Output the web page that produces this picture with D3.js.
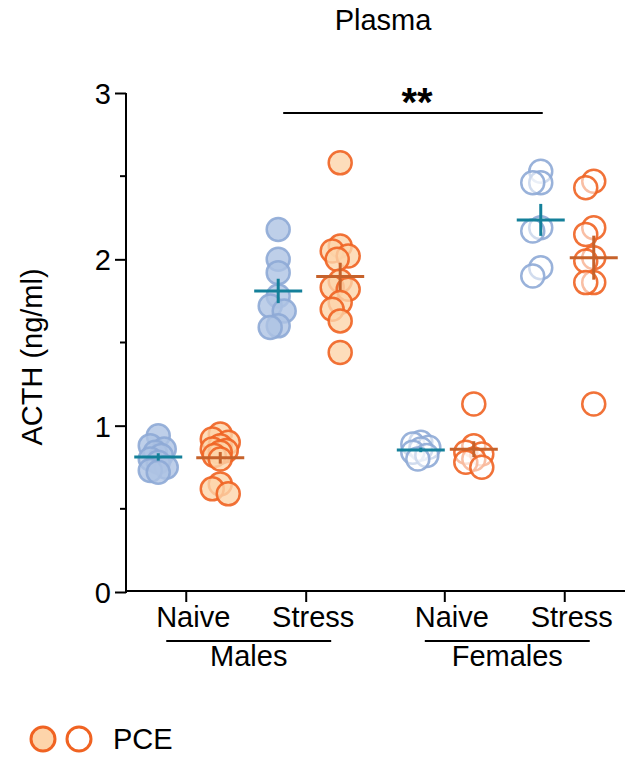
<!DOCTYPE html>
<html>
<head>
<meta charset="utf-8">
<script src="https://cdn.jsdelivr.net/npm/d3@7"></script>
<style>
  body { margin: 0; background: #fff; }
  svg text { font-family: "Liberation Sans", Arial, sans-serif; fill: #000; }
</style>
</head>
<body>
<div id="chart"></div>
<script>
// data (ACTH, ng/ml)
var sexes = ["Males", "Females"]
var conditions = ["Naive", "Stress"]
var treatments = ["Ctrl", "PCE"]

var malesNaiveCtrl = [0.94, 0.88, 0.86, 0.84, 0.82, 0.80, 0.78, 0.75, 0.73, 0.72]
var malesNaivePCE = [0.95, 0.92, 0.90, 0.88, 0.86, 0.85, 0.84, 0.82, 0.80, 0.65, 0.62, 0.59]
var malesStressCtrl = [2.18, 2.00, 1.92, 1.78, 1.72, 1.69, 1.60, 1.59]
var malesStressPCE = [2.58, 2.08, 2.05, 2.02, 2.00, 1.87, 1.83, 1.82, 1.74, 1.70, 1.63, 1.44]
var femalesNaiveCtrl = [0.90, 0.89, 0.87, 0.86, 0.84, 0.82, 0.80]
var femalesNaivePCE = [1.13, 0.88, 0.84, 0.83, 0.80, 0.78, 0.75]
var femalesStressCtrl = [2.53, 2.46, 2.46, 2.19, 2.17, 1.95, 1.90]
var femalesStressPCE = [2.47, 2.43, 2.19, 2.15, 2.01, 1.99, 1.86, 1.86, 1.13]

var yTicks = [0, 1, 2, 3]
var yMinorTicks = [0.5, 1.5, 2.5]
var title = "Plasma"
var yLabel = "ACTH (ng/ml)"
var sigLabel = "**"

var groups = [
  {sex: "Males", cond: "Naive", trt: "Ctrl", vals: malesNaiveCtrl},
  {sex: "Males", cond: "Naive", trt: "PCE", vals: malesNaivePCE},
  {sex: "Males", cond: "Stress", trt: "Ctrl", vals: malesStressCtrl},
  {sex: "Males", cond: "Stress", trt: "PCE", vals: malesStressPCE},
  {sex: "Females", cond: "Naive", trt: "Ctrl", vals: femalesNaiveCtrl},
  {sex: "Females", cond: "Naive", trt: "PCE", vals: femalesNaivePCE},
  {sex: "Females", cond: "Stress", trt: "Ctrl", vals: femalesStressCtrl},
  {sex: "Females", cond: "Stress", trt: "PCE", vals: femalesStressPCE}
]

var width = 633, height = 757;
var x0 = 126, x1 = 625, yBase = 592, yTop = 93;
var r = 11.5;
var fs = "29px";

var col = {
  Ctrl: {fill: "#aec3e3", stroke: "#8eaad6", mean: "#14809a"},
  PCE: {fill: "#fdd4aa", stroke: "#f06322", mean: "#c6622b"}
}
// the two sexes were dodged a bit differently in the original
var dodge = {Males: [-28, 34], Females: [-24, 29]}

var svg = d3.select("#chart").append("svg")
  .attr("width", width)
  .attr("height", height)

var y = d3.scaleLinear().domain([0, 3]).range([yBase, yTop])

var xSex = d3.scaleBand().domain(sexes).range([x0, x1]).paddingInner(0.1).paddingOuter(0.015)
var xCond = d3.scalePoint().domain(conditions).range([0, xSex.bandwidth()]).padding(0.47)

function xTick(sex, cond) { return xSex(sex) + xCond(cond) }
function xGroup(g) {
  var d = d3.scalePoint().domain(treatments).range(dodge[g.sex])
  return xTick(g.sex, g.cond) + d(g.trt)
}

// simple deterministic swarm so overlapping points spread sideways
function swarm(vals, cx) {
  var placed = []
  var cands = [0, -6, 6, -3, 3, -8, 8]
  vals.forEach(function(v) {
    var py = y(v), best = 0, bestScore = -Infinity
    cands.forEach(function(c) {
      var dmin = placed.length ? d3.min(placed, function(p) { return Math.hypot(p.x - (cx + c), p.y - py) }) : 99
      var score = Math.min(dmin, 14) - Math.abs(c) * 0.3
      if (score > bestScore) { bestScore = score; best = c }
    })
    placed.push({x: cx + best, y: py, v: v})
  })
  return placed
}

// title
svg.append("text")
  .attr("x", 383).attr("y", 30)
  .attr("text-anchor", "middle")
  .style("font-size", fs)
  .text(title)

// y axis
var yAxis = svg.append("g").attr("transform", "translate(" + x0 + ",0)")
yAxis.call(d3.axisLeft(y).tickValues(yTicks).tickSize(11).tickPadding(4).tickFormat(d3.format("d")))
yAxis.select(".domain").attr("stroke-width", 2).attr("d", "M0," + yTop + "V" + (yBase + 1))
yAxis.selectAll(".tick line").attr("stroke-width", 2)
yAxis.selectAll(".tick text").style("font-size", fs).attr("dy", "0.36em")
  .style("font-family", "'Liberation Sans', Arial, sans-serif")
yAxis.selectAll(".minor").data(yMinorTicks).enter().append("line")
  .attr("class", "minor")
  .attr("x1", -6).attr("x2", 0)
  .attr("y1", function(d) { return y(d) }).attr("y2", function(d) { return y(d) })
  .attr("stroke", "#000").attr("stroke-width", 2)

svg.append("text")
  .attr("transform", "translate(42," + 357 + ") rotate(-90)")
  .attr("text-anchor", "middle")
  .style("font-size", fs)
  .text(yLabel)

// x axis
var xg = svg.append("g")
xg.append("line")
  .attr("x1", x0 - 1).attr("x2", x1)
  .attr("y1", yBase - 1).attr("y2", yBase - 1)
  .attr("stroke", "#000").attr("stroke-width", 2)

sexes.forEach(function(sex) {
  conditions.forEach(function(cond) {
    var tx = xTick(sex, cond)
    xg.append("line")
      .attr("x1", tx).attr("x2", tx)
      .attr("y1", yBase - 1).attr("y2", yBase + 10)
      .attr("stroke", "#000").attr("stroke-width", 2)
    xg.append("text")
      .attr("x", tx + 7).attr("y", 627)
      .attr("text-anchor", "middle")
      .style("font-size", fs)
      .text(cond)
  })
  var a = xTick(sex, "Naive") - 20, b = xTick(sex, "Stress") + 25
  xg.append("line")
    .attr("x1", a).attr("x2", b)
    .attr("y1", 641).attr("y2", 641)
    .attr("stroke", "#000").attr("stroke-width", 2)
  xg.append("text")
    .attr("x", (a + b) / 2).attr("y", 666)
    .attr("text-anchor", "middle")
    .style("font-size", fs)
    .text(sex)
})

// points
groups.forEach(function(g) {
  var cx = xGroup(g)
  var pts = swarm(g.vals, cx)
  var c = col[g.trt]
  var filled = g.sex == "Males"
  svg.append("g").selectAll("circle")
    .data(pts)
    .enter().append("circle")
    .attr("cx", function(d) { return d.x })
    .attr("cy", function(d) { return d.y })
    .attr("r", r)
    .attr("fill", filled ? c.fill : "#fff")
    .attr("fill-opacity", filled ? 0.8 : 0.55)
    .attr("stroke", c.stroke)
    .attr("stroke-opacity", 0.9)
    .attr("stroke-width", 2.5)
})

// mean +- sem
groups.forEach(function(g) {
  var cx = xGroup(g)
  var m = d3.mean(g.vals)
  var sem = d3.deviation(g.vals) / Math.sqrt(g.vals.length)
  var c = col[g.trt].mean
  svg.append("line")
    .attr("x1", cx - 24).attr("x2", cx + 24)
    .attr("y1", y(m)).attr("y2", y(m))
    .attr("stroke", c).attr("stroke-width", 3)
  svg.append("line")
    .attr("x1", cx).attr("x2", cx)
    .attr("y1", y(m - sem)).attr("y2", y(m + sem))
    .attr("stroke", c).attr("stroke-width", 3)
})

// significance bracket
var sa = xGroup(groups[2]) + 5, sb = xGroup(groups[6]) + 2
svg.append("line")
  .attr("x1", sa).attr("x2", sb)
  .attr("y1", y(2.88)).attr("y2", y(2.88))
  .attr("stroke", "#000").attr("stroke-width", 2)
svg.append("text")
  .attr("x", (sa + sb) / 2 + 4).attr("y", y(2.88) + 3)
  .attr("text-anchor", "middle")
  .style("font-size", "40px")
  .style("font-weight", "bold")
  .text(sigLabel)

// legend (only the PCE row is visible)
var leg = svg.append("g").attr("transform", "translate(0,739)")
leg.append("circle").attr("cx", 43).attr("cy", 0).attr("r", 12)
  .attr("fill", col.PCE.fill).attr("stroke", col.PCE.stroke).attr("stroke-width", 3)
leg.append("circle").attr("cx", 79).attr("cy", 0).attr("r", 12)
  .attr("fill", "#fff").attr("stroke", col.PCE.stroke).attr("stroke-width", 3)
leg.append("text").attr("x", 113).attr("y", 10)
  .style("font-size", fs)
  .text("PCE")
</script>
</body>
</html>
